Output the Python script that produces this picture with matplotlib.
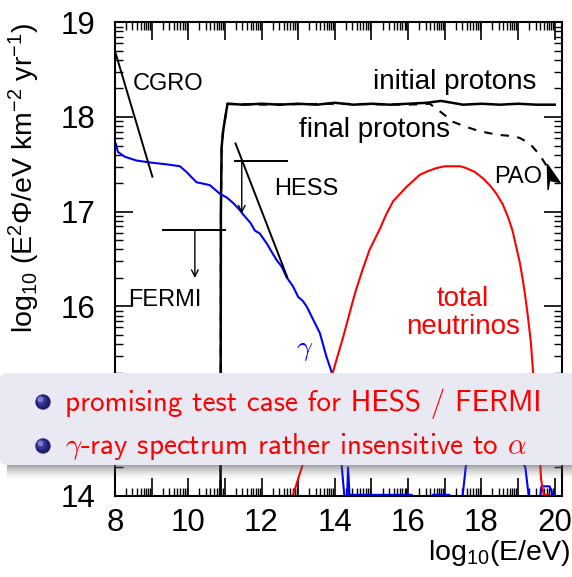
import numpy as np
import matplotlib
matplotlib.use('Agg')
import matplotlib.pyplot as plt
from matplotlib.patches import FancyBboxPatch, Rectangle, Circle, Polygon
from matplotlib.ticker import FixedLocator, FuncFormatter

plt.rcParams['font.family'] = ['Liberation Sans', 'DejaVu Sans']
plt.rcParams['mathtext.fontset'] = 'custom'
plt.rcParams['mathtext.rm'] = 'Liberation Sans'
plt.rcParams['mathtext.it'] = 'Liberation Sans:italic'
plt.rcParams['mathtext.bf'] = 'Liberation Sans:bold'

# --- data (log10 E/eV, log10 E^2 Phi) ---
gamma_x = [8.02, 8.08, 8.27, 8.59, 8.95, 9.41, 9.77, 9.95, 10.10, 10.23, 10.36, 10.59,
           10.86, 11.05, 11.23, 11.40, 11.50, 11.70, 11.82, 11.95, 12.15, 12.30, 12.41,
           12.55, 12.68, 12.86, 13.0, 13.12, 13.23, 13.41, 13.59, 13.77, 13.91, 14.05,
           14.18, 14.27, 14.33, 14.36, 14.40, 15.2, 16.1, 16.2, 16.6, 16.67, 17.13, 17.2,
           17.46, 17.6, 17.9, 18.4, 18.9, 19.2, 19.26, 19.35, 19.55, 19.64, 19.86, 19.95, 20.0]
gamma_y = [17.72, 17.63, 17.58, 17.54, 17.52, 17.50, 17.48, 17.42, 17.36, 17.31, 17.30, 17.28,
           17.19, 17.15, 17.09, 17.02, 16.97, 16.88, 16.80, 16.77, 16.66, 16.56, 16.49,
           16.42, 16.31, 16.21, 16.10, 16.06, 16.00, 15.86, 15.72, 15.47, 15.31, 14.85,
           14.35, 13.95, 13.90, 14.30, 14.01, 14.01, 14.01, 13.60, 13.60, 14.01, 14.01, 13.60,
           13.90, 14.40, 14.60, 14.65, 14.50, 14.30, 14.10, 13.80, 13.80, 14.10, 14.10, 14.01,
           14.01]

nu_x = [12.75, 12.85, 13.30, 13.95, 14.23, 14.55, 14.75, 14.95, 15.23, 15.40, 15.59, 15.95,
        16.32, 16.55, 16.77, 17.00, 17.23, 17.42, 17.59, 17.82, 18.05, 18.25, 18.41, 18.58,
        18.72, 18.85, 18.95, 19.05, 19.13, 19.20, 19.27, 19.35, 19.41, 19.55, 19.63, 19.70,
        19.85, 19.95]
nu_y = [13.87, 14.00, 14.54, 15.31, 15.68, 16.14, 16.38, 16.60, 16.82, 16.97, 17.11, 17.26,
        17.39, 17.43, 17.46, 17.48, 17.48, 17.48, 17.46, 17.42, 17.35, 17.27, 17.19, 17.08,
        16.95, 16.80, 16.63, 16.46, 16.28, 16.10, 15.89, 15.62, 15.31, 14.70, 14.17, 14.01,
        14.01, 13.80]

p_init_x = [10.88, 10.89, 10.91, 10.95, 11.07, 11.5, 12.0, 12.5, 13.0, 13.5, 14.0, 14.5,
            15.0, 15.5, 16.0, 16.5, 16.9, 17.5, 18.0, 18.5, 19.0, 19.5, 20.0]
p_init_y = [13.90, 17.00, 17.68, 17.85, 18.14, 18.13, 18.14, 18.13, 18.14, 18.13, 18.15, 18.13,
            18.14, 18.13, 18.14, 18.15, 18.17, 18.13, 18.14, 18.13, 18.14, 18.13, 18.13]

p_final_x = [10.88, 10.89, 10.91, 10.95, 11.07, 12.0, 14.0, 16.0, 16.59, 16.9, 17.22, 17.55,
             17.87, 18.2, 18.5, 18.8, 19.04, 19.32, 19.59, 19.77]
p_final_y = [13.90, 17.00, 17.68, 17.85, 18.14, 18.13, 18.14, 18.13, 18.14, 18.05, 17.95, 17.90,
             17.86, 17.83, 17.81, 17.80, 17.78, 17.72, 17.60, 17.49]

pao_x = [19.80, 20.14, 19.86, 19.82]
pao_y = [17.50, 17.31, 17.33, 17.23]

cgro_x = [8.02, 9.02]
cgro_y = [18.67, 17.37]
hess_x = [11.29, 12.70]
hess_y = [17.72, 16.31]

hess_lim_x = [11.27, 12.70]
hess_lim_y = 17.535
hess_arrow = (11.46, 17.535, 16.98)
fermi_lim_x = [9.31, 11.0]
fermi_lim_y = 16.81
fermi_arrow = (10.18, 16.81, 16.30)

x_ticks = list(range(8, 21))
y_ticks = list(range(14, 20))

bullets = ['promising test case for HESS / FERMI',
           r'$\gamma$-ray spectrum rather insensitive to $\alpha$']


def log_minor(lo, hi):
    return [n + np.log10(k) for n in range(lo, hi) for k in range(2, 10)]


fig = plt.figure(figsize=(5.72, 5.77), dpi=100)
ax = fig.add_axes([115 / 572, 1 - 495.8 / 577, 447 / 572, 473.5 / 577])

ax.plot(p_init_x, p_init_y, color='black', lw=1.8)
ax.plot(p_final_x, p_final_y, color='black', lw=1.5, ls=(0, (4, 4)))
ax.add_patch(Polygon(list(zip(pao_x, pao_y)), closed=True, color='black'))
ax.plot(gamma_x, gamma_y, color='#0000ff', lw=1.5)
ax.plot(nu_x, nu_y, color='#ff0000', lw=1.5)
ax.plot(cgro_x, cgro_y, color='black', lw=1.4)
ax.plot(hess_x, hess_y, color='black', lw=1.4)
ax.plot(hess_lim_x, [hess_lim_y] * 2, color='black', lw=1.4)
ax.plot(fermi_lim_x, [fermi_lim_y] * 2, color='black', lw=1.4)
for xa, y0, y1 in [hess_arrow, fermi_arrow]:
    ax.annotate('', xy=(xa, y1), xytext=(xa, y0),
                arrowprops=dict(arrowstyle='->', lw=1.0, color='black', mutation_scale=12,
                                shrinkA=0, shrinkB=0))

ax.text(8.49, 18.29, 'CGRO', fontsize=17, va='baseline')
ax.text(15.03, 18.30, 'initial protons', fontsize=20, va='baseline')
ax.text(13.03, 17.79, 'final protons', fontsize=20, va='baseline')
ax.text(12.34, 17.18, 'HESS', fontsize=17, va='baseline')
ax.text(18.34, 17.30, 'PAO', fontsize=17, va='baseline')
ax.text(8.35, 16.0, 'FERMI', fontsize=17, va='baseline')
ax.text(13.18, 15.54, r'$\gamma$', fontsize=20, color='#0000ff', ha='center', va='center',
        math_fontfamily='cm')
ax.text(17.50, 16.0, 'total', fontsize=20, color='#ff0000', ha='center', va='baseline')
ax.text(17.50, 15.71, 'neutrinos', fontsize=20, color='#ff0000', ha='center', va='baseline')

ax.set_xlim(8, 20.2)
ax.set_ylim(14, 19)
ax.xaxis.set_major_locator(FixedLocator(x_ticks))
ax.yaxis.set_major_locator(FixedLocator(y_ticks))
ax.xaxis.set_minor_locator(FixedLocator(log_minor(8, 21)))
ax.yaxis.set_minor_locator(FixedLocator(log_minor(14, 19)))
ax.xaxis.set_major_formatter(FuncFormatter(lambda v, p: '%d' % v if int(round(v)) % 2 == 0 else ''))
# 15 sits under the beamer block in the original, leave it blank
ax.yaxis.set_major_formatter(FuncFormatter(lambda v, p: '' if int(round(v)) == 15 else '%d' % v))
ax.tick_params(which='both', direction='in', top=True, right=True, labelsize=22.5)
ax.tick_params(which='major', length=13, width=1.2)
ax.tick_params(which='minor', length=6, width=1.0)
ax.tick_params(axis='x', which='major', pad=9)
ax.tick_params(axis='y', which='major', pad=14)
for s in ax.spines.values():
    s.set_linewidth(1.5)

# overlay in pixel coordinates: labels and the beamer block
ov = fig.add_axes([0, 0, 1, 1])
ov.set_xlim(0, 572)
ov.set_ylim(577, 0)
ov.axis('off')

ov.text(24, 178, r'log$_{10}$ (E$^{2}$Φ/eV km$^{-2}$ yr$^{-1}$)', fontsize=20.5,
        rotation=90, ha='center', va='center')
ov.text(570, 560, r'log$_{10}$(E/eV)', fontsize=20.5, ha='right', va='baseline')

for i in range(14):
    ov.add_patch(Rectangle((7, 465 + i), 580, 1, color='#5a5a5a', alpha=0.55 * (1 - i / 14) ** 1.5,
                           lw=0))
ov.add_patch(FancyBboxPatch((0, 373), 600, 92, boxstyle='round,pad=0,rounding_size=7',
                            facecolor='#e9e9f3', edgecolor='none'))

for i, (txt, yb) in enumerate(zip(bullets, [411, 454])):
    cy = [402, 446][i]
    ov.add_patch(Circle((43, cy), 7, color='#20206e'))
    ov.add_patch(Circle((41.5, cy - 1.5), 4.5, color='#3a3aa0', alpha=0.8))
    ov.add_patch(Circle((40.5, cy - 2.5), 2.2, color='#8c8cd8', alpha=0.8))
    ov.text(65, yb, txt, fontsize=21, color='#ff0000', family='cmss10', va='baseline',
            math_fontfamily='cm')

fig.savefig('out.png', dpi=100)
